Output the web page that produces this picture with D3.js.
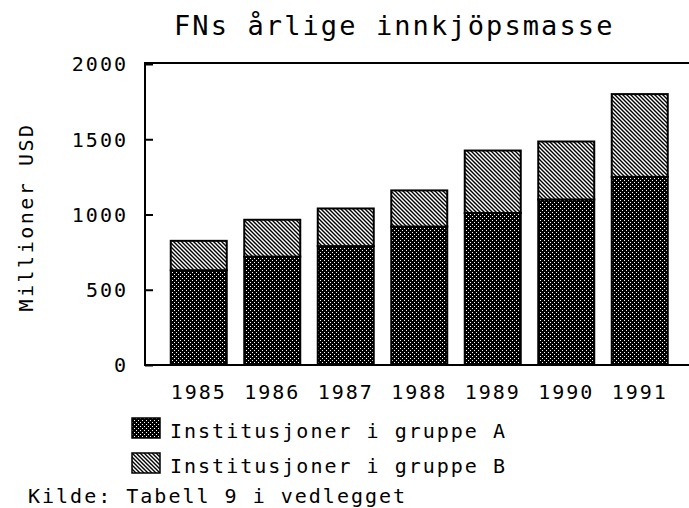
<!DOCTYPE html>
<html>
<head>
<meta charset="utf-8">
<script src="https://cdn.jsdelivr.net/npm/d3@7"></script>
<style>
  body { margin: 0; background: #fff; }
  text { font-family: 'DejaVu Sans Mono', monospace; fill: #000; }
</style>
</head>
<body>
<script>
let years = ['1985', '1986', '1987', '1988', '1989', '1990', '1991'];
let groupA = [630, 720, 790, 920, 1010, 1100, 1250];
let groupB = [195, 245, 250, 240, 415, 385, 550];
let yTicks = [0, 500, 1000, 1500, 2000];
let seriesNames = ['Institusjoner i gruppe A', 'Institusjoner i gruppe B'];

let svg = d3.select('body').append('svg').attr('width', 689).attr('height', 508);
let defs = svg.append('defs');

// dotted dark fill for group A
let dots = defs.append('pattern').attr('id', 'dots').attr('patternUnits', 'userSpaceOnUse')
               .attr('width', 4).attr('height', 4);
dots.append('rect').attr('width', 4).attr('height', 4).attr('fill', '#000');
dots.append('rect').attr('x', 0).attr('y', 0).attr('width', 1).attr('height', 1).attr('fill', '#fff');
dots.append('rect').attr('x', 2).attr('y', 2).attr('width', 1).attr('height', 1).attr('fill', '#fff');

// diagonal hatch for group B
let hatch = defs.append('pattern').attr('id', 'hatch').attr('patternUnits', 'userSpaceOnUse')
                .attr('width', 4).attr('height', 4);
hatch.append('rect').attr('width', 4).attr('height', 4).attr('fill', '#fff');
hatch.append('path').attr('d', 'M-1,-1L5,5M-1,3L1,5M3,-1L5,1')
     .attr('stroke', '#000').attr('stroke-width', 1.4);

let fills = ['url(#dots)', 'url(#hatch)'];

let plotLeft = 145, plotTop = 63, plotBottom = 365;

let y = d3.scaleLinear().domain([0, 2000]).range([plotBottom, 64]);
let x = d3.scaleBand().domain(years).range([162, 676.5]).paddingInner(0.238).paddingOuter(0.119);

// title
svg.append('text').attr('x', 174).attr('y', 35)
   .attr('font-size', 27).attr('letter-spacing', 2.1)
   .text('FNs årlige innkjöpsmasse');

// frame
svg.append('rect').attr('x', plotLeft).attr('y', plotTop).attr('width', 560).attr('height', plotBottom - plotTop)
   .attr('fill', 'none').attr('stroke', '#000').attr('stroke-width', 2);

// bars
let stacked = years.map(function(d, i) {
  return [
    {year: d, y0: 0, y1: groupA[i], s: 0},
    {year: d, y0: groupA[i], y1: groupA[i] + groupB[i], s: 1}
  ];
}).flat();

svg.selectAll('rect.bar').data(stacked).enter().append('rect')
   .attr('class', 'bar')
   .attr('x', function(d) { return x(d.year); })
   .attr('y', function(d) { return y(d.y1); })
   .attr('width', x.bandwidth())
   .attr('height', function(d) { return y(d.y0) - y(d.y1); })
   .attr('fill', function(d) { return fills[d.s]; })
   .attr('stroke', '#000').attr('stroke-width', 2);

// y axis
let yAxis = svg.append('g').attr('transform', 'translate(' + plotLeft + ',0)')
   .call(d3.axisRight(y).tickValues(yTicks).tickSize(8).tickFormat(''));
yAxis.select('.domain').remove();
yAxis.selectAll('line').attr('stroke-width', 2);

svg.selectAll('text.ytick').data(yTicks).enter().append('text')
   .attr('class', 'ytick')
   .attr('x', 128).attr('y', function(d) { return y(d); })
   .attr('dy', '0.37em').attr('text-anchor', 'end')
   .attr('font-size', 20).attr('letter-spacing', 2)
   .text(function(d) { return d; });

// x labels
svg.selectAll('text.xlab').data(years).enter().append('text')
   .attr('class', 'xlab')
   .attr('x', function(d) { return x(d) + x.bandwidth() / 2; })
   .attr('y', 399)
   .attr('text-anchor', 'middle')
   .attr('font-size', 20).attr('letter-spacing', 2)
   .text(function(d) { return d; });

// y title
svg.append('text').attr('transform', 'translate(33,217) rotate(-90)')
   .attr('text-anchor', 'middle')
   .attr('font-size', 20).attr('letter-spacing', 2.5)
   .text('Millioner USD');

// legend
let legend = svg.selectAll('g.leg').data(seriesNames).enter().append('g')
   .attr('class', 'leg')
   .attr('transform', function(d, i) { return 'translate(132,' + (418 + i * 35) + ')'; });
legend.append('rect').attr('width', 28).attr('height', 20)
   .attr('fill', function(d, i) { return fills[i]; })
   .attr('stroke', '#000').attr('stroke-width', 1.5);
legend.append('text').attr('x', 38).attr('y', 20)
   .attr('font-size', 20).attr('letter-spacing', 2)
   .text(function(d) { return d; });

// source
svg.append('text').attr('x', 28).attr('y', 503)
   .attr('font-size', 20).attr('letter-spacing', 2)
   .text('Kilde: Tabell 9 i vedlegget');
</script>
</body>
</html>
